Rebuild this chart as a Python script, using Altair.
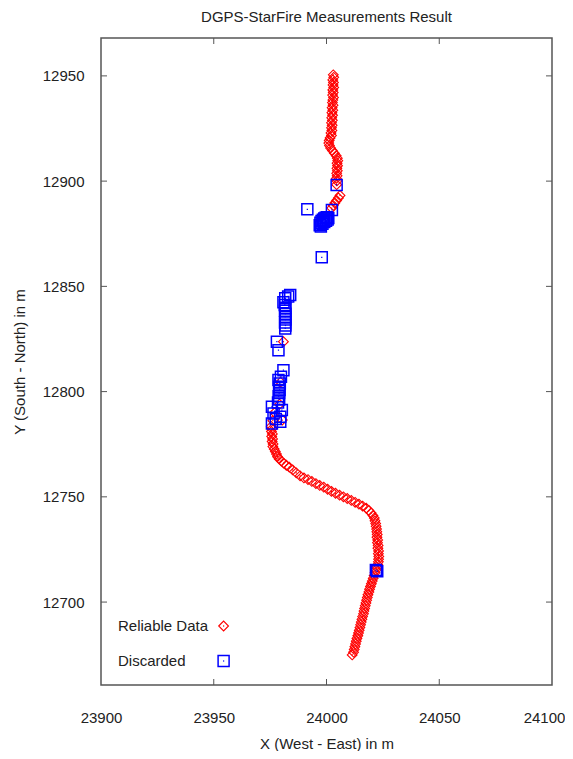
import altair as alt
import pandas as pd

# ---- data ----
reliable_x = [
    24003.0, 24003.2, 24002.8, 24003.1, 24002.9, 24003.2, 24002.8, 24003.0, 24002.7, 24003.1,
    24002.8, 24002.6, 24002.9, 24002.5, 24002.8, 24002.4, 24002.7, 24002.3, 24002.6, 24002.2,
    24002.5, 24002.2, 24002.4, 24002.0, 24002.2, 24001.6, 24001.2, 24001.0, 24001.3,
    24001.8, 24002.6, 24003.5, 24004.3, 24004.8, 24005.0, 24004.7, 24004.9, 24004.6, 24004.8,
    24004.5, 24004.7, 24004.4, 24004.6, 24004.5,
    24006.0, 24005.3, 24004.5, 24003.7, 24003.0, 24002.3,
    23980.9,
    23979.6, 23979.2, 23976.2, 23980.4, 23977.0,
    23975.5, 23975.8, 23975.6, 23976.0, 23975.7, 23976.1, 23975.9, 23976.3, 23976.2, 23976.8,
    23977.3, 23977.8, 23978.3, 23979.0, 23980.0, 23981.0, 23982.2, 23983.5,
    23985.0, 23986.6, 23988.3, 23990.0, 23991.8, 23993.5, 23995.3, 23997.0, 23998.8, 24000.5,
    24002.2, 24004.0, 24005.8, 24007.5, 24009.2, 24011.0, 24012.7, 24014.4, 24016.0, 24017.6,
    24018.8, 24019.8, 24020.6, 24021.2,
    24021.5, 24021.8, 24022.0, 24022.2, 24022.3, 24022.5, 24022.4, 24022.7, 24022.6, 24022.9,
    24022.8, 24023.1, 24023.0, 24023.2, 24023.1, 24023.0, 24022.7, 24022.3, 24021.9, 24021.5,
    24021.1, 24020.7, 24020.3, 24019.9, 24019.5, 24019.1, 24018.8, 24018.4, 24018.1, 24017.8,
    24017.5, 24017.2, 24016.9, 24016.6, 24016.4, 24016.0, 24015.7, 24015.4, 24015.1, 24014.8,
    24014.5, 24014.2, 24013.9, 24013.5, 24013.2, 24012.9, 24012.6, 24012.3, 24012.0, 24011.4,
]
reliable_y = [
    12950.5, 12949.3, 12948.1, 12946.9, 12945.7, 12944.5, 12943.3, 12942.1, 12940.9, 12939.7,
    12938.5, 12937.3, 12936.1, 12934.9, 12933.7, 12932.5, 12931.3, 12930.1, 12928.9, 12927.7,
    12926.5, 12925.3, 12924.1, 12922.9, 12921.7, 12920.5, 12919.3, 12918.1, 12916.9,
    12915.7, 12914.5, 12913.3, 12912.1, 12910.9, 12909.7, 12908.5, 12907.3, 12906.1, 12904.9,
    12903.7, 12902.5, 12901.3, 12900.1, 12898.3,
    12893.2, 12892.0, 12890.8, 12889.6, 12888.4, 12887.2,
    12823.7,
    12804.5, 12794.0, 12786.2, 12786.5, 12790.0,
    12783.5, 12782.3, 12781.1, 12779.9, 12778.7, 12777.5, 12776.3, 12775.1, 12773.9, 12772.7,
    12771.5, 12770.3, 12769.1, 12768.0, 12767.0, 12766.0, 12765.0, 12764.1,
    12762.8, 12761.4, 12760.0, 12759.0, 12758.2, 12757.3, 12756.3, 12755.4, 12754.6, 12753.6,
    12752.6, 12751.7, 12750.8, 12750.0, 12749.2, 12748.3, 12747.4, 12746.5, 12745.6, 12744.6,
    12743.5, 12742.3, 12741.1, 12739.9,
    12738.6, 12737.3, 12736.0, 12734.7, 12733.4, 12732.1, 12730.8, 12729.5, 12728.2, 12726.9,
    12725.6, 12724.3, 12723.0, 12721.7, 12720.4, 12719.1, 12717.8, 12716.5, 12715.2, 12713.9,
    12712.6, 12711.3, 12710.0, 12708.7, 12707.4, 12706.1, 12704.8, 12703.5, 12702.2, 12700.9,
    12699.6, 12698.3, 12697.0, 12695.7, 12694.4, 12693.1, 12691.8, 12690.5, 12689.2, 12687.9,
    12686.6, 12685.3, 12684.0, 12682.7, 12681.4, 12680.1, 12678.8, 12677.5, 12676.2, 12674.9,
]

discarded_x = [
    24004.5, 23991.5, 24002.4,
    23997.0, 23997.3, 23997.8, 23998.4, 23999.0, 23999.6, 24000.2, 24000.8, 23998.2, 23999.0,
    23999.8, 23997.5, 24000.5,
    23997.9,
    23983.9, 23983.0, 23981.7, 23980.9, 23981.5, 23981.8, 23981.6, 23981.8, 23981.7, 23981.8,
    23981.6, 23981.8, 23981.7,
    23978.0, 23978.7,
    23980.9, 23979.8, 23978.7, 23979.3, 23979.0, 23979.2, 23979.0, 23978.8, 23979.0, 23978.5,
    23975.8, 23980.2, 23976.5, 23979.5, 23975.8, 23979.5, 23977.5,
    24021.9, 24022.5,
]
discarded_y = [
    12898.2, 12886.6, 12886.3,
    12879.0, 12880.2, 12881.0, 12881.6, 12882.2, 12882.6, 12882.8, 12882.5, 12879.8, 12880.6,
    12881.2, 12878.5, 12881.8,
    12863.8,
    12845.9, 12845.2, 12844.3, 12842.5, 12841.2, 12839.8, 12838.4, 12837.0, 12835.6, 12834.2,
    12832.8, 12831.4, 12830.0,
    12823.7, 12819.7,
    12810.2, 12807.0, 12805.5, 12803.8, 12802.3, 12800.8, 12799.3, 12797.8, 12796.3, 12794.8,
    12792.8, 12791.2, 12789.6, 12788.0, 12784.9, 12785.7, 12787.0,
    12715.2, 12714.6,
]

x_ticks = [23900, 23950, 24000, 24050, 24100]
y_ticks = [12700, 12750, 12800, 12850, 12900, 12950]
legend_labels = ["Reliable Data", "Discarded"]
chart_title = "DGPS-StarFire Measurements Result"

# ---- styling ----
W, H = 451, 647
FONT = "Liberation Sans"
TXT = "#222222"
FRAME = "#555555"
RED = "#ff0000"
BLUE = "#0000ff"

rel = pd.DataFrame({"x": reliable_x, "y": reliable_y})
dis = pd.DataFrame({"x": discarded_x, "y": discarded_y})
xt = pd.DataFrame({"v": x_ticks[1:-1]})
yt = pd.DataFrame({"v": y_ticks})

xs = alt.Scale(domain=[23900, 24100], nice=False, zero=False)
ys = alt.Scale(domain=[12660.6, 12968], nice=False, zero=False)

x_axis = alt.Axis(
    values=x_ticks, format="d", ticks=False, tickSize=0, domain=False, grid=False,
    labelFlush=False, labelOverlap=False, labelPadding=25, labelFont=FONT,
    labelFontSize=15, labelColor=TXT,
    labelOffset={"condition": {"test": "datum.value == 24100", "value": -8}, "value": 0},
    title="X (West - East) in m", titleFont=FONT,
    titleFontSize=15, titleFontWeight="normal", titleColor=TXT, titlePadding=11,
)
y_axis = alt.Axis(
    values=y_ticks, format="d", ticks=False, tickSize=0, domain=False, grid=False,
    labelFlush=False, labelOverlap=False, labelPadding=17, labelFont=FONT,
    labelFontSize=15, labelColor=TXT, title="Y (South - North) in m", titleFont=FONT,
    titleFontSize=15, titleFontWeight="normal", titleColor=TXT, titlePadding=15,
)

def X(f):
    return alt.X(f, scale=xs, axis=x_axis)

def Y(f):
    return alt.Y(f, scale=ys, axis=y_axis)

red_pts = alt.Chart(rel).mark_point(
    shape="diamond", size=95, color=RED, strokeWidth=1.1, filled=False, opacity=1
).encode(x=X("x:Q"), y=Y("y:Q"))
red_dots = alt.Chart(rel).mark_point(
    shape="square", size=1.5, color=RED, filled=True, opacity=1
).encode(x=X("x:Q"), y=Y("y:Q"))

blue_pts = alt.Chart(dis).mark_point(
    shape="square", size=121, color=BLUE, strokeWidth=1.5, filled=False, opacity=1
).encode(x=X("x:Q"), y=Y("y:Q"))
blue_dots = alt.Chart(dis).mark_point(
    shape="square", size=1.5, color=BLUE, filled=True, opacity=1
).encode(x=X("x:Q"), y=Y("y:Q"))

# inward ticks on all four sides (gnuplot style)
tick_len = 6
xb = alt.Chart(xt).mark_rule(color=FRAME, strokeWidth=1).encode(
    x=X("v:Q"), y=alt.value(H), y2=alt.value(H - tick_len))
xtp = alt.Chart(xt).mark_rule(color=FRAME, strokeWidth=1).encode(
    x=X("v:Q"), y=alt.value(0), y2=alt.value(tick_len))
yl = alt.Chart(yt).mark_rule(color=FRAME, strokeWidth=1).encode(
    y=Y("v:Q"), x=alt.value(0), x2=alt.value(tick_len))
yr = alt.Chart(yt).mark_rule(color=FRAME, strokeWidth=1).encode(
    y=Y("v:Q"), x=alt.value(W), x2=alt.value(W - tick_len))

# chart title as a text mark above the frame
title_mark = alt.Chart(pd.DataFrame({"t": [chart_title]})).mark_text(
    align="center", baseline="middle", font=FONT, fontSize=15, color=TXT
).encode(text="t:N", x=alt.value(W / 2), y=alt.value(-21))

# legend (gnuplot key: text left, symbol right, inside bottom-left)
leg_rel = pd.DataFrame({"t": [legend_labels[0]]})
leg_dis = pd.DataFrame({"t": [legend_labels[1]]})
leg_rel_txt = alt.Chart(leg_rel).mark_text(
    align="left", baseline="middle", font=FONT, fontSize=15, color=TXT
).encode(text="t:N", x=alt.value(17), y=alt.value(588))
leg_dis_txt = alt.Chart(leg_dis).mark_text(
    align="left", baseline="middle", font=FONT, fontSize=15, color=TXT
).encode(text="t:N", x=alt.value(17), y=alt.value(623))
leg_rel_sym = alt.Chart(leg_rel).mark_point(
    shape="diamond", size=95, color=RED, strokeWidth=1.1, filled=False, opacity=1
).encode(x=alt.value(122.6), y=alt.value(588))
leg_rel_dot = alt.Chart(leg_rel).mark_point(
    shape="square", size=1.5, color=RED, filled=True, opacity=1
).encode(x=alt.value(122.6), y=alt.value(588))
leg_dis_sym = alt.Chart(leg_dis).mark_point(
    shape="square", size=121, color=BLUE, strokeWidth=1.5, filled=False, opacity=1
).encode(x=alt.value(122.6), y=alt.value(623))
leg_dis_dot = alt.Chart(leg_dis).mark_point(
    shape="square", size=1.5, color=BLUE, filled=True, opacity=1
).encode(x=alt.value(122.6), y=alt.value(623))

chart = alt.layer(
    red_pts, red_dots, blue_pts, blue_dots, xb, xtp, yl, yr, title_mark,
    leg_rel_txt, leg_dis_txt, leg_rel_sym, leg_rel_dot, leg_dis_sym, leg_dis_dot,
).properties(
    width=W, height=H,
    autosize=alt.AutoSizeParams(type="none"),
    padding={"left": 93, "top": 30, "right": 13, "bottom": 66},
    background="white",
).configure_view(
    stroke=FRAME, strokeWidth=1.5,
)

chart.save("out.html", embed_options={"renderer": "svg", "actions": False})
